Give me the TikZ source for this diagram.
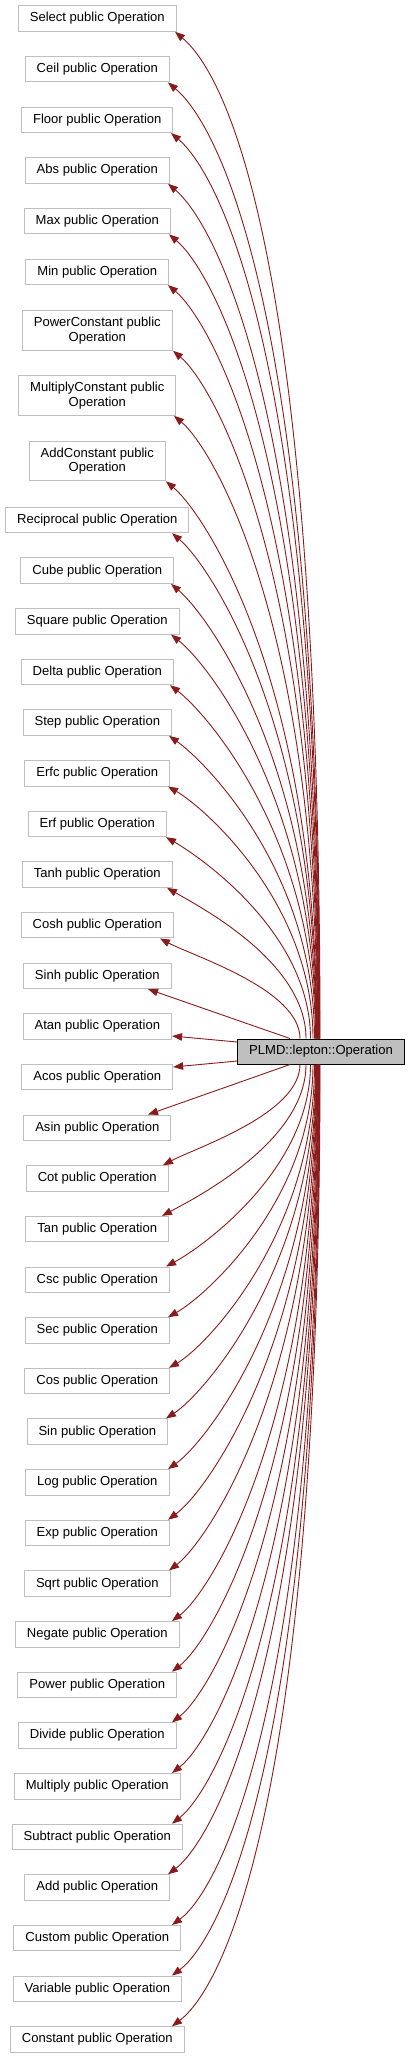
\documentclass[tikz,border=0pt]{standalone}
\usepackage{fontspec}
\setmainfont{Liberation Sans}
\usetikzlibrary{arrows.meta,calc}
\definecolor{edgecol}{HTML}{8B1A1A}
\definecolor{boxgray}{HTML}{BFBFBF}
\begin{document}
\begin{tikzpicture}[x=1pt,y=-1pt,
  cls/.style={draw=boxgray, line width=1pt, fill=white, inner xsep=11.5pt, inner ysep=0pt,
    minimum height=25.5pt, font=\fontsize{13.05}{14.3}\selectfont, align=center},
  base/.style={cls, draw=black, fill=boxgray, minimum height=25pt},
  edge/.style={draw=edgecol, line width=0.9pt, -{Triangle[length=10pt,width=7.5pt]}}]
\useasboundingbox (0,0) rectangle (411,2059);

\node[base] (main) at (321,1051.5) {PLMD::lepton::Operation};

% children above the base class
\foreach \id/\txt/\yc/\h/\tx/\sx/\ang in {
  1/{Select public Operation}/18.5/25.5/175/320/40,
  2/{Ceil public Operation}/69.2/25.5/168/319.6/40,
  3/{Floor public Operation}/119.8/25.5/171/319.3/40,
  4/{Abs public Operation}/170.5/25.5/168/318.9/40,
  5/{Max public Operation}/221.1/25.5/169/318.5/40,
  6/{Min public Operation}/271.8/25.5/168/318.2/40,
  7/{PowerConstant public\\Operation}/330.5/39.5/173/317.8/40,
  8/{MultiplyConstant public\\Operation}/395.5/39.5/174/317.4/40,
  9/{AddConstant public\\Operation}/461/39.5/166/317/40,
  10/{Reciprocal public Operation}/520/25.5/172/316.7/40,
  11/{Cube public Operation}/570.65/25.5/171/316.3/40,
  12/{Square public Operation}/621.3/25.5/171/316/38,
  13/{Delta public Operation}/671.95/25.5/170/315.5/37,
  14/{Step public Operation}/722.6/25.5/169/314.5/35,
  15/{Erfc public Operation}/773.25/25.5/168/313/30,
  16/{Erf public Operation}/823.9/25.5/166/310.5/30,
  17/{Tanh public Operation}/874.55/25.5/167/306/30,
  18/{Cosh public Operation}/925.2/25.5/160/300/28}{
  \node[cls, minimum height=\h pt] (c\id) at (97.3,\yc) {\txt};
  \pgfmathsetmacro\dy{1039-(\yc+\h/2)}
  \pgfmathsetmacro\kk{\dy*min(0.8,0.45+\dy/2900)}
  \pgfmathsetmacro\LL{35+\dy/40}
  \pgfmathsetmacro\lx{\LL*cos(\ang)}
  \pgfmathsetmacro\ly{\LL*sin(\ang)}
  \coordinate (s\id) at (\sx,0 |- main.north);
  \coordinate (t\id) at (\tx,0 |- c\id.south);
  \draw[edge] (s\id) .. controls ($(s\id)+(0,-\kk)$) and ($(t\id)+(\lx,\ly)$) .. (t\id);
}

% children near the base class
\node[cls] (sinh) at (97.3,975.85) {Sinh public Operation};
\node[cls] (atan) at (97.3,1026.5) {Atan public Operation};
\node[cls] (acos) at (97.3,1077.15) {Acos public Operation};
\node[cls] (asin) at (97.3,1127.8) {Asin public Operation};
\draw[edge] (290,0 |- main.north) -- (148,0 |- sinh.south);
\draw[edge] (main.west |- 0,1042) -- (atan.east |- 0,1036);
\draw[edge] (main.west |- 0,1061) -- (acos.east |- 0,1067);
\draw[edge] (290,0 |- main.south) -- (148,0 |- asin.north);

% children below the base class
\foreach \id/\txt/\yc/\h/\tx/\sx/\ang in {
  21/{Cot public Operation}/1178.45/25.5/163/300/28,
  22/{Tan public Operation}/1229.1/25.5/162/306/28,
  23/{Csc public Operation}/1279.75/25.5/166/310.5/28,
  24/{Sec public Operation}/1330.4/25.5/168/313/29,
  25/{Cos public Operation}/1381.05/25.5/169/314.5/30,
  26/{Sin public Operation}/1431.7/25.5/166/315.5/33,
  27/{Log public Operation}/1482.35/25.5/168/316/35,
  28/{Exp public Operation}/1533/25.5/168/316.3/36,
  29/{Sqrt public Operation}/1583.65/25.5/169/316.7/37,
  30/{Negate public Operation}/1634.3/25.5/172/317/37,
  31/{Power public Operation}/1684.95/25.5/172/317.4/38,
  32/{Divide public Operation}/1735.6/25.5/172/317.8/38,
  33/{Multiply public Operation}/1786.25/25.5/172/318.2/38,
  34/{Subtract public Operation}/1836.9/25.5/172/318.5/38,
  35/{Add public Operation}/1887.55/25.5/168/318.9/37,
  36/{Custom public Operation}/1938.2/25.5/172/319.3/36,
  37/{Variable public Operation}/1988.85/25.5/172/319.6/37,
  38/{Constant public Operation}/2039.5/25.5/172/320/37}{
  \node[cls, minimum height=\h pt] (c\id) at (97.3,\yc) {\txt};
  \pgfmathsetmacro\dy{(\yc-\h/2)-1064}
  \pgfmathsetmacro\kk{\dy*min(0.8,0.45+\dy/2900)}
  \pgfmathsetmacro\LL{35+\dy/40}
  \pgfmathsetmacro\lx{\LL*cos(\ang)}
  \pgfmathsetmacro\ly{\LL*sin(\ang)}
  \coordinate (s\id) at (\sx,0 |- main.south);
  \coordinate (t\id) at (\tx,0 |- c\id.north);
  \draw[edge] (s\id) .. controls ($(s\id)+(0,\kk)$) and ($(t\id)+(\lx,-\ly)$) .. (t\id);
}
\end{tikzpicture}
\end{document}
